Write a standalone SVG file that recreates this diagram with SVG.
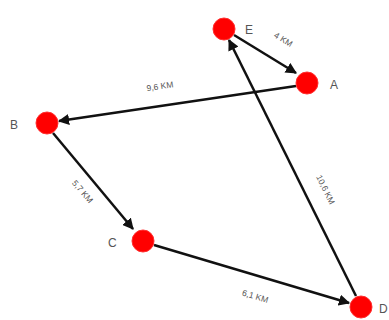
<svg xmlns="http://www.w3.org/2000/svg" width="389" height="320" viewBox="0 0 389 320">
<style>
.node{fill:#ff0000;stroke:#ff3030;stroke-width:1}
.lbl{font-family:"Liberation Sans",Arial,sans-serif;font-size:12px;fill:#555}
.el{font-family:"Liberation Sans",Arial,sans-serif;font-size:8.5px;fill:#555;text-anchor:middle;dominant-baseline:middle}
.edge{stroke:#111;stroke-width:2.5;fill:none;marker-end:url(#ah)}
</style>
<defs>
<marker id="ah" viewBox="0 0 10 10" refX="9" refY="5" markerWidth="4.5" markerHeight="4.5" orient="auto" markerUnits="strokeWidth">
<path d="M0,0 L10,5 L0,10 z" fill="#111"/>
</marker>
</defs>
<rect width="389" height="320" fill="#fff"/>
<g id="connectors">
<line class="edge" x1="234" y1="35" x2="296" y2="73"/>
<line class="edge" x1="296" y1="86" x2="59" y2="121"/>
<line class="edge" x1="53" y1="133" x2="133" y2="229"/>
<line class="edge" x1="154" y1="245" x2="349" y2="303"/>
<line class="edge" x1="356" y1="296" x2="229" y2="40"/>
<text class="el" transform="translate(283,40) rotate(31.5)">4 KM</text>
<text class="el" transform="translate(160,87) rotate(-8.6)">9,6 KM</text>
<text class="el" transform="translate(82,192) rotate(50)">5,7 KM</text>
<text class="el" transform="translate(255,297) rotate(16.7)">6,1 KM</text>
<text class="el" transform="translate(325,190) rotate(63.6)">10,6 KM</text>
</g>
<g id="E"><circle class="node" cx="224" cy="29" r="11"/><text class="lbl" x="245" y="34">E</text></g>
<g id="A"><circle class="node" cx="307" cy="83" r="11"/><text class="lbl" x="330" y="89">A</text></g>
<g id="B"><circle class="node" cx="47" cy="123" r="11"/><text class="lbl" x="10" y="129">B</text></g>
<g id="C"><circle class="node" cx="143" cy="241" r="11"/><text class="lbl" x="108" y="247">C</text></g>
<g id="D"><circle class="node" cx="361" cy="307" r="11"/><text class="lbl" x="379" y="313">D</text></g>
</svg>
